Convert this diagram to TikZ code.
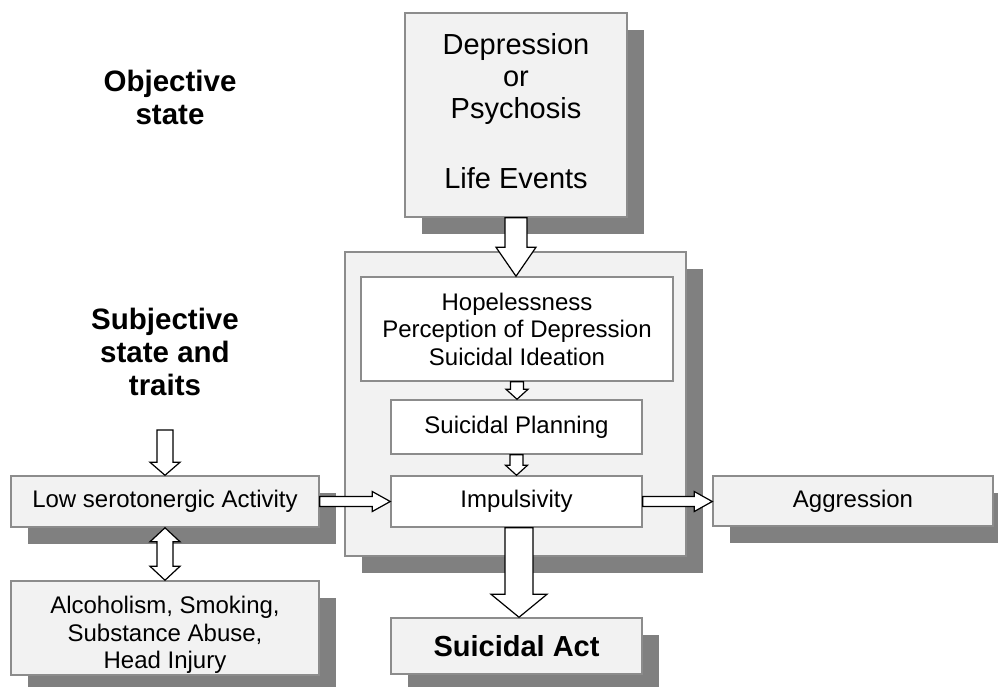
\documentclass[tikz,border=0pt]{standalone}
\usepackage{fontspec}
\setmainfont{Liberation Sans}
\usetikzlibrary{calc,shadows}
\definecolor{boxgray}{RGB}{242,242,242}
\definecolor{linegray}{RGB}{140,140,140}
\definecolor{shadegray}{RGB}{128,128,128}
\tikzset{>=latex}
\tikzset{
  box/.style={draw=linegray, line width=1.5pt, fill=boxgray, align=center, inner sep=0pt,
    font=\fontsize{24}{27.5}\selectfont},
  shbox/.style={box, drop shadow={shadow xshift=17pt, shadow yshift=-17pt, fill=shadegray, opacity=1}},
  inbox/.style={box, fill=white},
  blockarrow/.style={draw=black, fill=white, line width=1.2pt, line join=miter},
  heading/.style={align=center, font=\fontsize{29.5}{33}\selectfont\bfseries}
}
% hollow block arrows: start, tip, half shaft, half head, head length
\newcommand{\downblock}[5]{%
  \draw[blockarrow] let \p1=(#1), \p2=(#2) in
  (\x1-#3,\y1) -- (\x1-#3,\y2+#5) -- (\x1-#4,\y2+#5) -- (\x1,\y2)
  -- (\x1+#4,\y2+#5) -- (\x1+#3,\y2+#5) -- (\x1+#3,\y1) -- cycle;}
\newcommand{\rightblock}[5]{%
  \draw[blockarrow] let \p1=(#1), \p2=(#2) in
  (\x1,\y1-#3) -- (\x2-#5,\y1-#3) -- (\x2-#5,\y1-#4) -- (\x2,\y1)
  -- (\x2-#5,\y1+#4) -- (\x2-#5,\y1+#3) -- (\x1,\y1+#3) -- cycle;}
\newcommand{\updownblock}[5]{%
  \draw[blockarrow] let \p1=(#1), \p2=(#2) in
  (\x1,\y1) -- (\x1+#4,\y1-#5) -- (\x1+#3,\y1-#5) -- (\x1+#3,\y2+#5) -- (\x1+#4,\y2+#5)
  -- (\x1,\y2) -- (\x1-#4,\y2+#5) -- (\x1-#3,\y2+#5) -- (\x1-#3,\y1-#5) -- (\x1-#4,\y1-#5) -- cycle;}

\begin{document}
\begin{tikzpicture}[x=1pt, y=-1pt]
\useasboundingbox (0,0) rectangle (998,686);

% left headings
\node[heading] (objective) at (170,97) {Objective\\state};
\node[heading] (subjective) at (165,352) {Subjective\\state and\\traits};
\coordinate (subjarrow) at (165,430);

% top box
\node[shbox, minimum width=222pt, minimum height=204pt, font=\fontsize{29}{32}\selectfont]
  (dep) at (516,115) {Depression\\or\\Psychosis\\[38pt]Life Events\rule[-8pt]{0pt}{8pt}};

% container with the inner steps
\node[shbox, minimum width=341pt, minimum height=304pt] (cont) at (515.5,404) {};
\node[inbox, minimum width=312pt, minimum height=104pt] (hope) at (517,329)
  {Hopelessness\\Perception of Depression\\Suicidal Ideation};
\node[inbox, minimum width=251pt, minimum height=54pt] (plan) at (516.5,427) {Suicidal Planning};
\node[inbox, minimum width=251pt, minimum height=51pt] (imp) at (516.5,501.5) {Impulsivity};

% side boxes
\node[shbox, minimum width=308pt, minimum height=51pt] (low) at (165,501.5) {Low serotonergic Activity};
\node[shbox, minimum width=308pt, minimum height=94pt] (alc) at (165,628)
  {\rule{0pt}{31pt}Alcoholism, Smoking,\\Substance Abuse,\\Head Injury};
\node[shbox, minimum width=280pt, minimum height=50pt] (agg) at (853,501) {Aggression};
\node[shbox, minimum width=251pt, minimum height=56pt, font=\fontsize{29}{32}\selectfont\bfseries]
  (act) at (516.5,646) {Suicidal Act};

% arrows
\downblock{dep.south}{hope.north}{11pt}{20pt}{29pt}
\downblock{hope.south}{plan.north}{6.5pt}{11pt}{10pt}
\downblock{plan.south}{imp.north}{6.5pt}{11pt}{10pt}
\downblock{[xshift=2.5pt]imp.south}{act.north}{14pt}{28pt}{23pt}
\downblock{subjarrow}{low.north}{8pt}{15pt}{13pt}
\updownblock{low.south}{alc.north}{8pt}{15pt}{14pt}
\rightblock{low.east}{imp.west}{5pt}{10pt}{18pt}
\rightblock{imp.east}{agg.west}{5pt}{10pt}{18pt}

\end{tikzpicture}
\end{document}
